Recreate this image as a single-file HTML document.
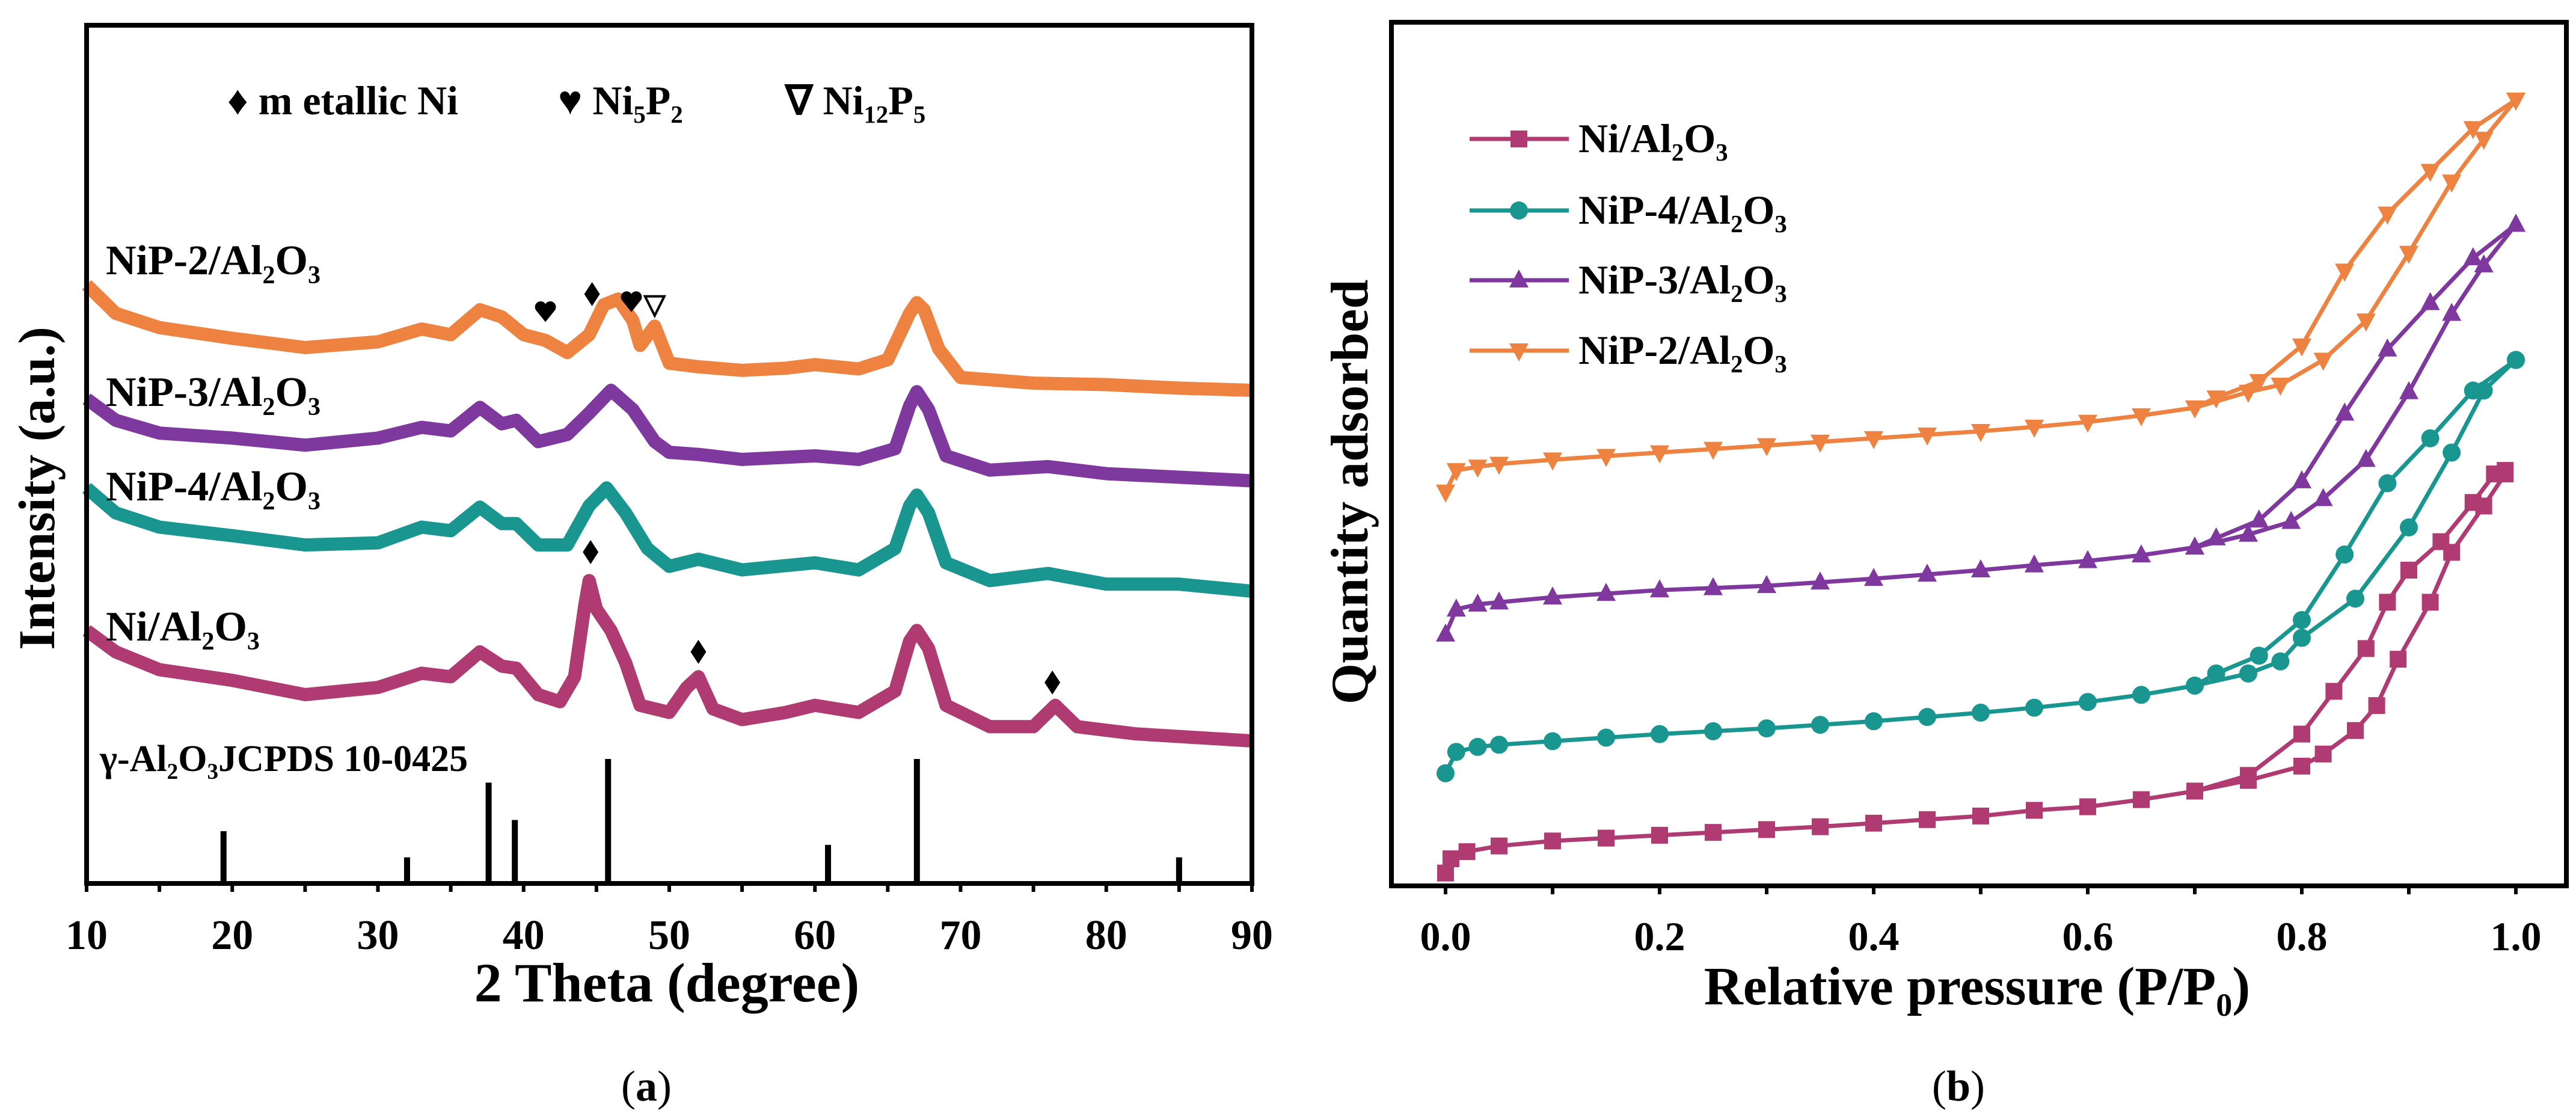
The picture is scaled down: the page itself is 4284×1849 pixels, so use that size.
<!DOCTYPE html>
<html><head><meta charset="utf-8"><style>
html,body{margin:0;padding:0;background:#fff;}
svg{display:block;font-family:"Liberation Serif",serif;}
</style></head><body>
<svg id="fig" width="4284" height="1849" viewBox="0 0 4284 1849" xmlns="http://www.w3.org/2000/svg">
<g id="pa"></g>
<g id="pb"></g>
</svg>
<script>
// ---------- Panel (a) XRD data ----------
const xrdTicks = [10,20,30,40,50,60,70,80,90];
const niX  = [10,12,15,20,25,30,33,35,37,38.5,39.5,41,42.5,43.5,44.2,44.5,45,46,47,48,50,51.2,52,53,55,58,60,63,65.5,66.5,67,67.8,69,72,75,76.5,78,82,86,90];
const niY  = [355,325,300,285,265,275,295,290,325,305,302,265,255,290,390,425,385,355,310,250,240,275,290,245,230,240,250,240,270,340,355,330,250,220,220,250,220,210,205,200];
const p4X  = [10,12,15,20,25,30,33,35,37,38.5,39.5,41,43,44.5,45.7,47,48.5,50,52,55,60,63,65.5,66.5,67,67.8,69,72,76,80,85,90];
const p4Y  = [555,520,500,488,475,478,500,495,528,505,505,475,475,530,555,520,470,445,455,440,450,440,470,530,545,520,450,425,435,420,420,410];
const p3X  = [10,12,15,20,25,30,33,35,37,38.5,39.5,41,43,44.5,46,47.5,49,50,52,55,60,63,65.5,66.5,67,67.8,69,72,76,80,85,90];
const p3Y  = [680,650,632,625,615,625,640,635,668,645,650,620,630,660,692,665,620,605,602,595,600,595,610,670,690,665,600,580,585,575,570,565];
const p2X  = [10,12,15,20,25,30,33,35,37,38.5,40,41.5,43,44.5,45.5,46.5,47.5,48,49,50,52,55,58,60,63,65,66.5,67,67.5,68.5,70,75,80,85,90];
const p2Y  = [840,800,780,765,752,760,778,770,805,795,770,762,745,770,812,820,790,755,782,730,725,720,723,728,722,735,800,815,805,750,710,702,700,695,692];
const refPos = [19.4,32,37.6,39.4,45.8,60.9,67,85];
const refInt = [42,21,81,51,100,31,100,21];
const niPeakX = [44.6,52,76.3];
const niPeakY = [465,325,282];
const p2MarkX = [41.5,44.7,47.4,49];
const p2MarkY = [803,827,817,812];
const p2MarkType = ['heart','diamond','heart','nabla'];

// ---------- Panel (b) isotherm data ----------
const pTicks = [0.0,0.2,0.4,0.6,0.8,1.0];
const niAdsP = [0,0.005,0.02,0.05,0.1,0.15,0.2,0.25,0.3,0.35,0.4,0.45,0.5,0.55,0.6,0.65,0.7,0.75,0.8,0.82,0.85,0.87,0.89,0.92,0.94,0.97,0.99];
const niAdsQ = [18,38,48,56,63,67,71,75,79,83,88,93,98,106,111,121,133,148,168,185,218,253,318,398,468,533,578];
const niDesP = [0.99,0.98,0.96,0.93,0.9,0.88,0.86,0.83,0.8,0.75,0.7];
const niDesQ = [583,578,538,483,443,398,333,273,213,155,133];
const t4AdsP = [0,0.01,0.03,0.05,0.1,0.15,0.2,0.25,0.3,0.35,0.4,0.45,0.5,0.55,0.6,0.65,0.7,0.75,0.78,0.8,0.85,0.9,0.94,0.97,1.0];
const t4AdsQ = [158,188,195,198,203,208,213,217,221,226,231,237,243,250,258,268,281,298,315,348,403,503,608,695,738];
const t4DesP = [1.0,0.96,0.92,0.88,0.84,0.8,0.76,0.72,0.7];
const t4DesQ = [738,695,628,565,465,373,323,298,281];
const t3AdsP = [0,0.01,0.03,0.05,0.1,0.15,0.2,0.25,0.3,0.35,0.4,0.45,0.5,0.55,0.6,0.65,0.7,0.75,0.79,0.82,0.86,0.9,0.94,0.97,1.0];
const t3AdsQ = [353,388,395,398,405,410,415,418,421,426,431,437,443,450,456,464,475,493,511,543,598,693,803,871,928];
const t3DesP = [1.0,0.96,0.92,0.88,0.84,0.8,0.76,0.72,0.7];
const t3DesQ = [928,881,818,753,663,568,513,488,475];
const t2AdsP = [0,0.01,0.03,0.05,0.1,0.15,0.2,0.25,0.3,0.35,0.4,0.45,0.5,0.55,0.6,0.65,0.7,0.75,0.78,0.82,0.86,0.9,0.94,0.97,1.0];
const t2AdsQ = [553,583,588,592,598,603,608,613,618,623,628,633,638,644,651,660,671,693,703,738,793,888,988,1048,1103];
const t2DesP = [1.0,0.96,0.92,0.88,0.84,0.8,0.76,0.72,0.7];
const t2DesQ = [1103,1063,1003,943,863,758,708,685,671];

const NS='http://www.w3.org/2000/svg';
function mk(parent,tag,attrs){const e=document.createElementNS(NS,tag);for(const k in attrs)e.setAttribute(k,attrs[k]);parent.appendChild(e);return e;}
const C={pink:'#B03A72',teal:'#1A9690',purple:'#7E389E',orange:'#EE8240'};

// ===== Panel A =====
const A=document.getElementById('pa');
const aL=144,aR=2082,aT=42,aB=1469;
const ax=v=>aL+(v-10)/80*(aR-aL);
const ay=v=>aB-v*1.185;
function txt(parent,x,y,size,content,anchor,weight){
  const t=mk(parent,'text',{x:x,y:y,'font-size':size,'text-anchor':anchor||'start','font-weight':weight||'bold',fill:'#000'});
  t.innerHTML=content;return t;
}
function drawSeries(g,X,Y,color,name){
  let d='';X.forEach((v,i)=>{d+=(i?'L':'M')+ax(v).toFixed(1)+','+ay(Y[i]).toFixed(1);});
  const p=mk(g,'path',{d:d,fill:'none',stroke:color,'stroke-width':22,'stroke-linejoin':'round'});
  
  
}
drawSeries(A,niX,niY,C.pink,'ni-al2o3-xrd-curve');
drawSeries(A,p4X,p4Y,C.teal,'nip4-xrd-curve');
drawSeries(A,p3X,p3Y,C.purple,'nip3-xrd-curve');
drawSeries(A,p2X,p2Y,C.orange,'nip2-xrd-curve');
refPos.forEach((v,i)=>{
  const r=mk(A,'rect',{x:ax(v)-5,y:aB-refInt[i]*2.07,width:10,height:refInt[i]*2.07,fill:'#000'});
  
  
});
function marker(g,type,cx,cy){
  let e;
  if(type==='diamond') e=mk(g,'path',{d:`M${cx},${cy-20}L${cx+13},${cy}L${cx},${cy+20}L${cx-13},${cy}Z`,fill:'#000'});
  else if(type==='heart') e=mk(g,'path',{d:`M${cx},${cy+18}L${cx-16},${cy-2}A9,9 0 0 1 ${cx},${cy-12}A9,9 0 0 1 ${cx+16},${cy-2}Z`,fill:'#000'});
  else e=mk(g,'path',{d:`M${cx-16},${cy-14}L${cx+16},${cy-14}L${cx},${cy+18}Z`,fill:'none',stroke:'#000','stroke-width':4});
  
  
}
niPeakX.forEach((v,i)=>marker(A,'diamond',ax(v),ay(niPeakY[i])));
p2MarkX.forEach((v,i)=>marker(A,p2MarkType[i],ax(v),ay(p2MarkY[i])));
const fa=mk(A,'rect',{x:aL,y:aT,width:aR-aL,height:aB-aT,fill:'none',stroke:'#000','stroke-width':8});

for(let v=10;v<=90;v+=5){
  const t=mk(A,'line',{x1:ax(v),x2:ax(v),y1:aB,y2:aB+14,stroke:'#000','stroke-width':6});
  
}
xrdTicks.forEach(v=>{
  const t=txt(A,ax(v),1578,70,String(v),'middle');
  
});
const sub=(s)=>`<tspan baseline-shift="-35%" font-size="0.6em">${s}</tspan>`;
let t;
t=txt(A,1109,1665,92,'2 Theta (degree)','middle');
t=txt(A,0,0,86,'Intensity (a.u.)','middle');t.setAttribute('transform','translate(90,812) rotate(-90)');
t=txt(A,1075,1830,72,'(<tspan font-weight="bold">a</tspan>)','middle','normal');
t=txt(A,378,190,68,'♦ m etallic Ni');
t=txt(A,928,190,68,'♥ Ni'+sub('5')+'P'+sub('2'));
t=txt(A,1306,190,68,'∇ Ni'+sub('12')+'P'+sub('5'));
t=txt(A,176,456,70,'NiP-2/Al'+sub('2')+'O'+sub('3'));
t=txt(A,176,675,70,'NiP-3/Al'+sub('2')+'O'+sub('3'));
t=txt(A,176,832,70,'NiP-4/Al'+sub('2')+'O'+sub('3'));
t=txt(A,176,1065,70,'Ni/Al'+sub('2')+'O'+sub('3'));
t=txt(A,166,1282,62,'γ-Al'+sub('2')+'O'+sub('3')+'JCPDS 10-0425');

// ===== Panel B =====
const B=document.getElementById('pb');
const bL=2314,bR=4268,bT=37,bB=1473;
const bx=v=>2404+v*(4184-2404);
const by=v=>bB-v*1.185;
function bMarker(g,type,cx,cy,color){
  let e;
  if(type==='square') e=mk(g,'rect',{x:cx-14,y:cy-14,width:28,height:28,fill:color});
  else if(type==='circle') e=mk(g,'circle',{cx:cx,cy:cy,r:15,fill:color});
  else if(type==='up') e=mk(g,'path',{d:`M${cx},${cy-18}L${cx+16},${cy+12}L${cx-16},${cy+12}Z`,fill:color});
  else e=mk(g,'path',{d:`M${cx},${cy+18}L${cx+16},${cy-12}L${cx-16},${cy-12}Z`,fill:color});
  
  
}
function iso(P,Q,color,type,name){
  let d='';P.forEach((v,i)=>{d+=(i?'L':'M')+bx(v).toFixed(1)+','+by(Q[i]).toFixed(1);});
  const p=mk(B,'path',{d:d,fill:'none',stroke:color,'stroke-width':7,'stroke-linejoin':'round'});
  
  
  P.forEach((v,i)=>bMarker(B,type,bx(v),by(Q[i]),color));
}
iso(niAdsP,niAdsQ,C.pink,'square','ni-adsorption');
iso(niDesP,niDesQ,C.pink,'square','ni-desorption');
iso(t4AdsP,t4AdsQ,C.teal,'circle','nip4-adsorption');
iso(t4DesP,t4DesQ,C.teal,'circle','nip4-desorption');
iso(t3AdsP,t3AdsQ,C.purple,'up','nip3-adsorption');
iso(t3DesP,t3DesQ,C.purple,'up','nip3-desorption');
iso(t2AdsP,t2AdsQ,C.orange,'down','nip2-adsorption');
iso(t2DesP,t2DesQ,C.orange,'down','nip2-desorption');
const fb=mk(B,'rect',{x:bL,y:bT,width:bR-bL,height:bB-bT,fill:'none',stroke:'#000','stroke-width':8});

for(let i=0;i<=10;i++){
  const v=i/10;
  const tk=mk(B,'line',{x1:bx(v),x2:bx(v),y1:bB,y2:bB+14,stroke:'#000','stroke-width':6});
  
}
pTicks.forEach(v=>{
  const tl=txt(B,bx(v),1580,68,v.toFixed(1),'middle');
  
});
t=txt(B,3288,1670,90,'Relative pressure (P/P'+sub('0')+')','middle');
t=txt(B,0,0,88,'Quantity adsorbed','middle');t.setAttribute('transform','translate(2274,818) rotate(-90)');
t=txt(B,3257,1830,72,'(<tspan font-weight="bold">b</tspan>)','middle','normal');
const legNames=['Ni/Al'+sub('2')+'O'+sub('3'),'NiP-4/Al'+sub('2')+'O'+sub('3'),'NiP-3/Al'+sub('2')+'O'+sub('3'),'NiP-2/Al'+sub('2')+'O'+sub('3')];
const legCols=[C.pink,C.teal,C.purple,C.orange];
const legTypes=['square','circle','up','down'];
const legY=[231,350,466,583];
legNames.forEach((n,i)=>{
  const g=mk(B,'g',{});
  
  
  mk(g,'line',{x1:2444,x2:2609,y1:legY[i],y2:legY[i],stroke:legCols[i],'stroke-width':7});
  bMarker(g,legTypes[i],2526,legY[i],legCols[i]);
  txt(g,2625,legY[i]+22,68,n);
});
</script>
</body></html>
